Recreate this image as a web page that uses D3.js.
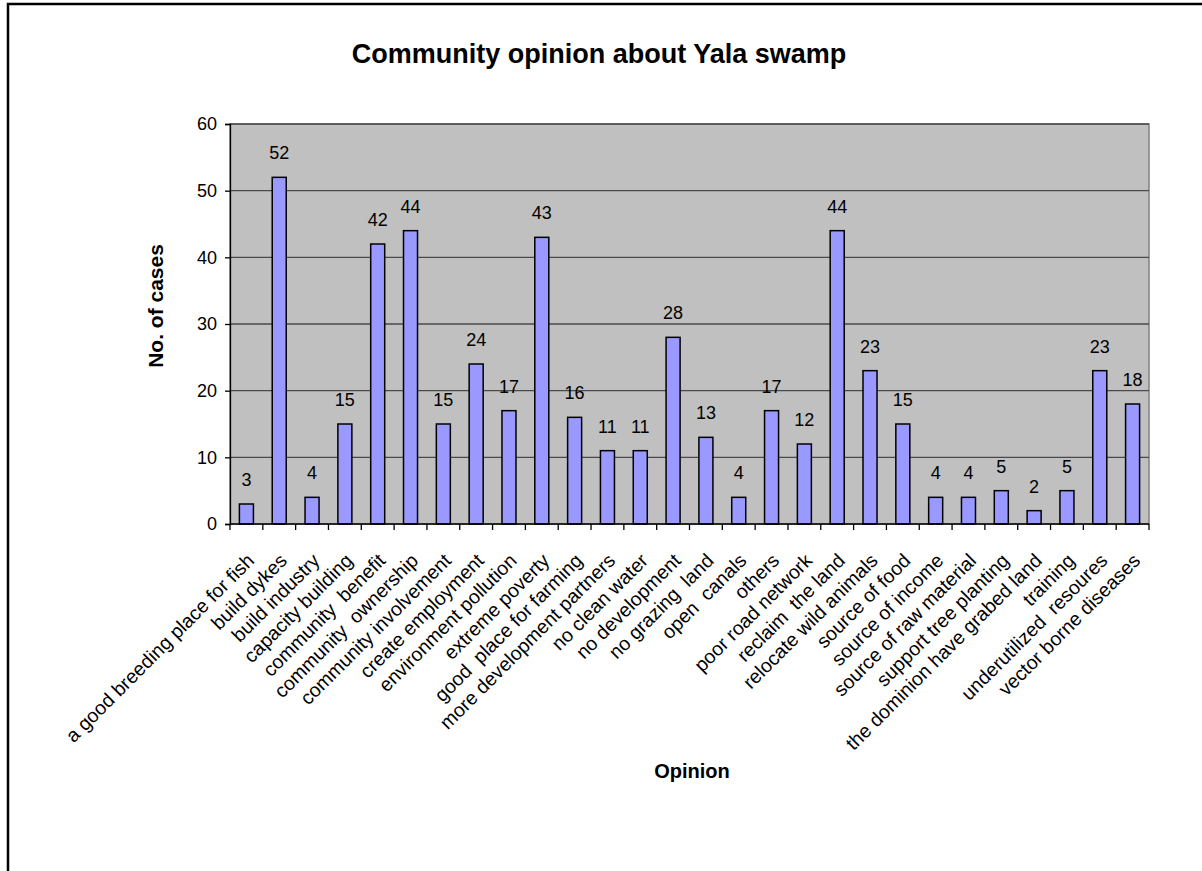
<!DOCTYPE html>
<html>
<head>
<meta charset="utf-8">
<script src="https://cdn.jsdelivr.net/npm/d3@7"></script>
<style>
  html, body { margin: 0; padding: 0; background: #fff; }
  svg { display: block; font-family: "Liberation Sans", Arial, sans-serif; }
</style>
</head>
<body>
<svg id="chart" width="1202" height="871"></svg>
<script>
const categories = [
  "a good breeding place for fish", "build dykes", "build industry", "capacity building",
  "community  benefit", "community  ownership", "community involvement", "create employment",
  "environment pollution", "extreme poverty", "good  place for farming", "more development partners",
  "no clean water", "no development", "no grazing  land", "open  canals", "others",
  "poor road network", "reclaim  the land", "relocate wild animals", "source of food",
  "source of income", "source of raw material", "support tree planting",
  "the dominion have grabed land", "training", "underutilized  resoures", "vector borne diseases"
];
const values = [3, 52, 4, 15, 42, 44, 15, 24, 17, 43, 16, 11, 11, 28, 13, 4, 17, 12, 44, 23, 15, 4, 4, 5, 2, 5, 23, 18];
const yTicks = [0, 10, 20, 30, 40, 50, 60];
const titleText = "Community opinion about Yala swamp";
const yTitle = "No. of cases";
const xTitle = "Opinion";

const svg = d3.select("#chart");
const plot = { left: 230, right: 1149, top: 124, bottom: 524 };

// outer chart frame (cropped at right/bottom)
svg.append("rect").attr("x", 8).attr("y", 4).attr("width", 1400).attr("height", 1000)
  .attr("fill", "#fff").attr("stroke", "#000").attr("stroke-width", 2.5);

const x = d3.scaleBand().domain(categories).range([plot.left, plot.right])
  .paddingInner(0.573).paddingOuter(0.2865);
const y = d3.scaleLinear().domain([0, 60]).range([plot.bottom, plot.top]);
const step = x.step();

// plot background
svg.append("rect").attr("x", plot.left).attr("y", plot.top)
  .attr("width", plot.right - plot.left).attr("height", plot.bottom - plot.top)
  .attr("fill", "#C0C0C0").attr("stroke", "#808080").attr("stroke-width", 1.5);

// gridlines
svg.append("g").selectAll("line").data(yTicks.filter(d => d > 0)).join("line")
  .attr("x1", plot.left).attr("x2", plot.right)
  .attr("y1", d => y(d)).attr("y2", d => y(d))
  .attr("stroke", "#4a4a4a").attr("stroke-width", 1.3);

// bars
svg.append("g").selectAll("rect").data(values).join("rect")
  .attr("x", (d, i) => x(categories[i]))
  .attr("y", d => y(d))
  .attr("width", x.bandwidth())
  .attr("height", d => y(0) - y(d))
  .attr("fill", "#9999FF").attr("stroke", "#000").attr("stroke-width", 1.5);

// data labels
svg.append("g").selectAll("text").data(values).join("text")
  .attr("x", (d, i) => x(categories[i]) + x.bandwidth() / 2)
  .attr("y", d => y(d) - 18)
  .attr("text-anchor", "middle").attr("font-size", 18).attr("fill", "#000")
  .text(d => d);

// y axis
const yAxis = d3.axisLeft(y).tickValues(yTicks).tickSize(5).tickPadding(8);
const gy = svg.append("g").attr("transform", `translate(${plot.left},0)`).call(yAxis);
gy.select(".domain").attr("stroke", "#000").attr("stroke-width", 1.3);
gy.selectAll(".tick line").attr("stroke", "#000").attr("stroke-width", 1.3);
gy.selectAll(".tick text").attr("font-size", 18).attr("font-family", "Liberation Sans, Arial, sans-serif").attr("fill", "#000");

// x axis line and ticks at band boundaries
svg.append("line").attr("x1", plot.left).attr("x2", plot.right)
  .attr("y1", plot.bottom).attr("y2", plot.bottom).attr("stroke", "#000").attr("stroke-width", 1.5);
svg.append("g").selectAll("line").data(d3.range(categories.length + 1)).join("line")
  .attr("x1", i => plot.left + i * step).attr("x2", i => plot.left + i * step)
  .attr("y1", plot.bottom).attr("y2", plot.bottom + 6)
  .attr("stroke", "#000").attr("stroke-width", 1.3);

// x labels
svg.append("g").selectAll("text").data(categories).join("text")
  .attr("transform", d => `translate(${x(d) + x.bandwidth() / 2 - 1},${plot.bottom + 28}) rotate(-45)`)
  .attr("text-anchor", "end").attr("dy", "0.72em").attr("font-size", 19.5).attr("fill", "#000")
  .attr("xml:space", "preserve").style("white-space", "pre")
  .text(d => d);

// titles
svg.append("text").attr("x", 599).attr("y", 63).attr("text-anchor", "middle")
  .attr("font-size", 27).attr("font-weight", "bold").text(titleText);
svg.append("text").attr("transform", "translate(163,306) rotate(-90)").attr("text-anchor", "middle")
  .attr("font-size", 21).attr("font-weight", "bold").text(yTitle);
svg.append("text").attr("x", 692).attr("y", 778).attr("text-anchor", "middle")
  .attr("font-size", 20).attr("font-weight", "bold").text(xTitle);
</script>
</body>
</html>
